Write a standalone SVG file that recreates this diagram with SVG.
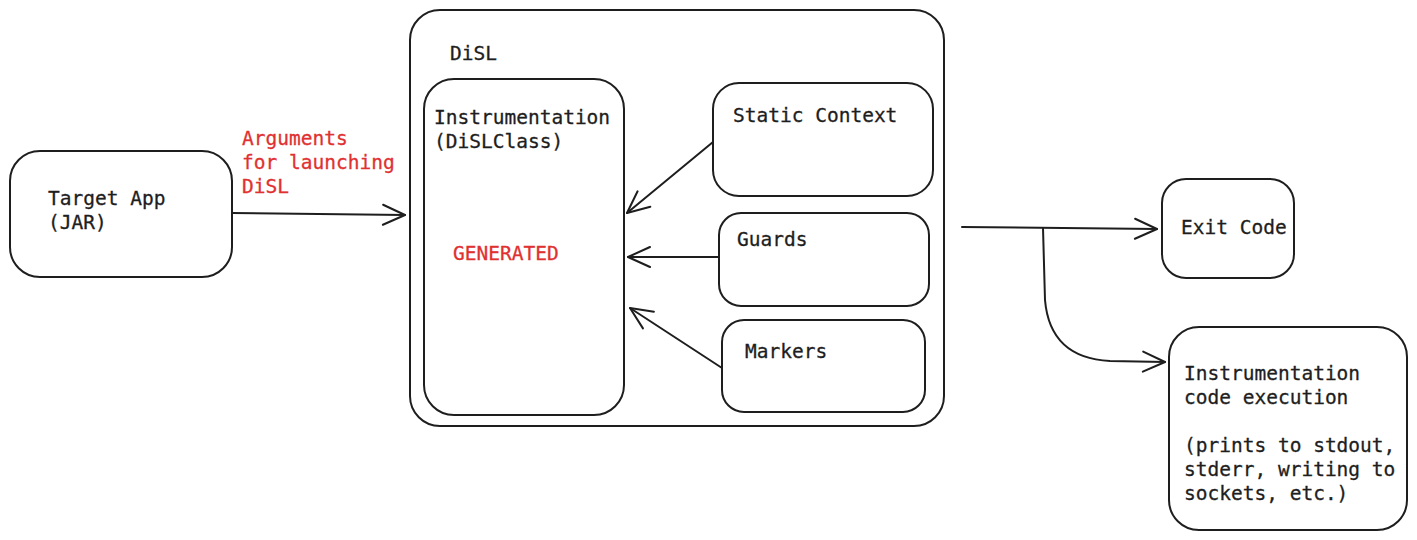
<svg xmlns="http://www.w3.org/2000/svg" width="1417" height="540" viewBox="0 0 1417 540">
<style>
.box{fill:#fff;stroke:#1e1e1e;stroke-width:2}
.t{font-family:"DejaVu Sans Mono","Liberation Mono",monospace;font-size:19.5px;fill:#1e1e1e;stroke:#1e1e1e;stroke-width:0.3}
.r{fill:#e03131;stroke:#e03131}
.c{fill:none;stroke:#1e1e1e;stroke-width:2;stroke-linecap:round;stroke-linejoin:round}
</style>
<defs>
<marker id="ah" viewBox="0 0 26 24" refX="24" refY="12" markerWidth="26" markerHeight="24" markerUnits="userSpaceOnUse" orient="auto">
<path d="M2,2 L24,12 L2,22" fill="none" stroke="#1e1e1e" stroke-width="2" stroke-linecap="round" stroke-linejoin="round"/>
</marker>
</defs>
<rect width="1417" height="540" fill="#fff"/>
<g id="target-app">
<rect class="box" x="10" y="151" width="222" height="126" rx="30"/>
<text class="t" x="48" y="205">Target App</text>
<text class="t" x="48" y="229">(JAR)</text>
</g>
<g id="disl">
<rect class="box" x="410" y="10" width="534" height="416" rx="30"/>
<text class="t" x="450" y="60">DiSL</text>
</g>
<g id="instrumentation">
<rect class="box" x="424" y="79" width="200" height="336" rx="30"/>
<text class="t" x="434" y="124">Instrumentation</text>
<text class="t" x="434" y="148">(DiSLClass)</text>
<text class="t r" x="453" y="260">GENERATED</text>
</g>
<g id="static-context">
<rect class="box" x="713" y="83" width="220" height="113" rx="26"/>
<text class="t" x="733" y="122">Static Context</text>
</g>
<g id="guards">
<rect class="box" x="719" y="213" width="210" height="93" rx="22"/>
<text class="t" x="737" y="246">Guards</text>
</g>
<g id="markers">
<rect class="box" x="722" y="320" width="203" height="92" rx="22"/>
<text class="t" x="745" y="358">Markers</text>
</g>
<g id="exit-code">
<rect class="box" x="1162" y="179" width="132" height="99" rx="24"/>
<text class="t" x="1181" y="234">Exit Code</text>
</g>
<g id="instrumentation-exec">
<rect class="box" x="1169" y="327" width="238" height="203" rx="30"/>
<text class="t" x="1184" y="380">Instrumentation</text>
<text class="t" x="1184" y="404">code execution</text>
<text class="t" x="1184" y="452">(prints to stdout,</text>
<text class="t" x="1184" y="476">stderr, writing to</text>
<text class="t" x="1184" y="500">sockets, etc.)</text>
</g>
<g id="label-args">
<text class="t r" x="242" y="145">Arguments</text>
<text class="t r" x="242" y="169">for launching</text>
<text class="t r" x="242" y="193">DiSL</text>
</g>
<g id="connectors">
<path class="c" d="M232,213 L405,215" marker-end="url(#ah)"/>
<path class="c" d="M713,142 L627,213" marker-end="url(#ah)"/>
<path class="c" d="M719,257 L628,257" marker-end="url(#ah)"/>
<path class="c" d="M722,368 L630,308" marker-end="url(#ah)"/>
<path class="c" d="M962,227 L1157,229" marker-end="url(#ah)"/>
<path class="c" d="M1043,228 L1045,300 Q1050,358 1110,361 L1165,362" marker-end="url(#ah)"/>
</g>
</svg>
